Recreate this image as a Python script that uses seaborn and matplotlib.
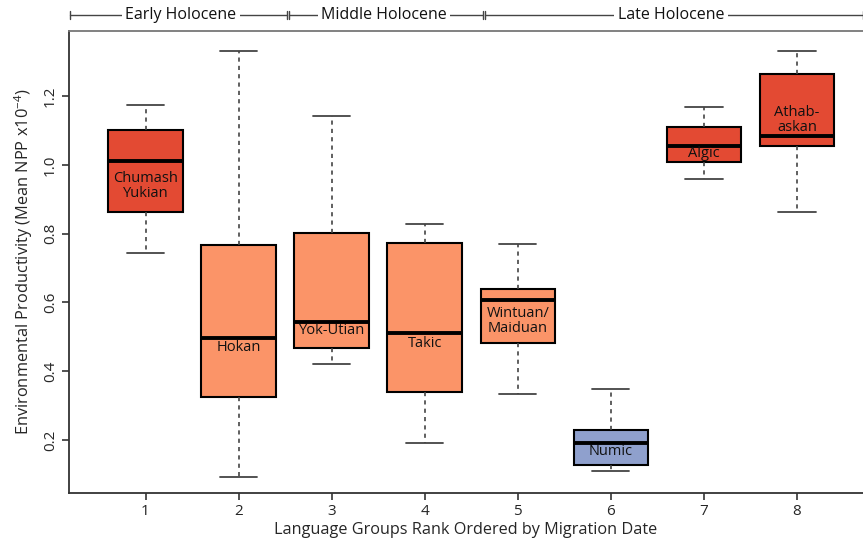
import numpy as np
import pandas as pd
import matplotlib
matplotlib.use("Agg")
import matplotlib.pyplot as plt
import seaborn as sns

# ---- data (five-number summaries) ----
ranks = [1, 2, 3, 4, 5, 6, 7, 8]
groups = ["Chumash\nYukian", "Hokan", "Yok-Utian", "Takic",
          "Wintuan/\nMaiduan", "Numic", "Algic", "Athab-\naskan"]
tier = ["high", "mid", "mid", "mid", "mid", "low", "high", "high"]
low = [0.743, 0.092, 0.421, 0.191, 0.333, 0.110, 0.959, 0.863]
q1 = [0.862, 0.325, 0.467, 0.340, 0.483, 0.127, 1.008, 1.055]
med = [1.012, 0.497, 0.543, 0.511, 0.607, 0.190, 1.055, 1.084]
q3 = [1.100, 0.767, 0.802, 0.773, 0.638, 0.229, 1.110, 1.264]
high = [1.173, 1.331, 1.142, 0.828, 0.769, 0.347, 1.168, 1.331]
label_y = [0.938, 0.470, 0.517, 0.482, 0.546, 0.168, 1.034, 1.130]

# period spans, in rank units
period_names = ["Early Holocene", "Middle Holocene", "Late Holocene"]
period_start = [0.189, 2.542, 4.648]
period_end = [2.520, 4.626, 8.709]
period_text = [1.381, 3.563, 6.646]

yticks = [0.2, 0.4, 0.6, 0.8, 1.0, 1.2]

palette = {"high": "#E34A33", "mid": "#FB9468", "low": "#8FA0CD"}

rows = []
for r, t, a, b, c, d, e in zip(ranks, tier, low, q1, med, q3, high):
    for v in (a, b, c, d, e):
        rows.append({"rank": str(r), "tier": t, "value": v})
df = pd.DataFrame(rows)

sns.set_theme(style="white")
plt.rcParams["font.family"] = ["Open Sans", "DejaVu Sans"]
plt.rcParams["mathtext.default"] = "regular"

fig = plt.figure(figsize=(8.63, 5.41), dpi=100)
ax = fig.add_axes([69 / 863, 48 / 541, 1 - 69 / 863, (493 - 31) / 541])

sns.boxplot(data=df, x="rank", y="value", hue="tier", order=[str(r) for r in ranks],
            palette=palette, dodge=False, whis=(0, 100), width=0.8, saturation=1,
            linewidth=1.5, linecolor="black", legend=False, ax=ax,
            medianprops=dict(linewidth=2.8, color="black"),
            whiskerprops=dict(linestyle=(0, (2.5, 2.5)), color="#444444", linewidth=1.2),
            capprops=dict(color="#444444", linewidth=1.3),
            boxprops=dict(edgecolor="black"))

for i, (g, y) in enumerate(zip(groups, label_y)):
    ax.text(i, y, g, ha="center", va="center", fontsize=10.5, color="#111111",
            linespacing=0.95, zorder=5)

ax.set_xlim(-0.822, 7.709)
ax.set_ylim(0.046, 1.389)
ax.set_yticks(yticks)
ax.set_yticklabels([f"{t:.1f}" for t in yticks], rotation=90, va="center", fontsize=11)
ax.set_xticks(range(len(ranks)))
ax.set_xticklabels([str(r) for r in ranks], fontsize=11)
ax.tick_params(axis="both", direction="out", length=5, width=1.2, color="#333333",
               left=True, bottom=True, pad=3)
ax.set_xlabel("Language Groups Rank Ordered by Migration Date", fontsize=11.7, labelpad=2)
ax.set_ylabel("Environmental Productivity (Mean NPP x10$^{-4}$)", fontsize=11.8, labelpad=6)

for s in ["left", "bottom", "top"]:
    ax.spines[s].set_visible(True)
    ax.spines[s].set_color("#333333")
    ax.spines[s].set_linewidth(1.3)
ax.spines["right"].set_visible(False)
ax.spines["top"].set_color("#777777")

# ---- period timeline above the plot ----
tr = ax.get_xaxis_transform()
yl = 1.0346
for name, s, e, c in zip(period_names, period_start, period_end, period_text):
    ax.plot([s - 1, e - 1], [yl, yl], color="#444444", lw=1.0, transform=tr, clip_on=False, zorder=3)
    for xx in (s - 1, e - 1):
        ax.plot([xx, xx], [yl - 0.009, yl + 0.009], color="#444444", lw=1.0,
                transform=tr, clip_on=False, zorder=3)
    ax.text(c - 1, yl, name, ha="center", va="center", fontsize=11.5, transform=tr,
            color="#111111", zorder=4,
            bbox=dict(facecolor="white", edgecolor="none", pad=2.5))

fig.savefig("out.png", dpi=100)
